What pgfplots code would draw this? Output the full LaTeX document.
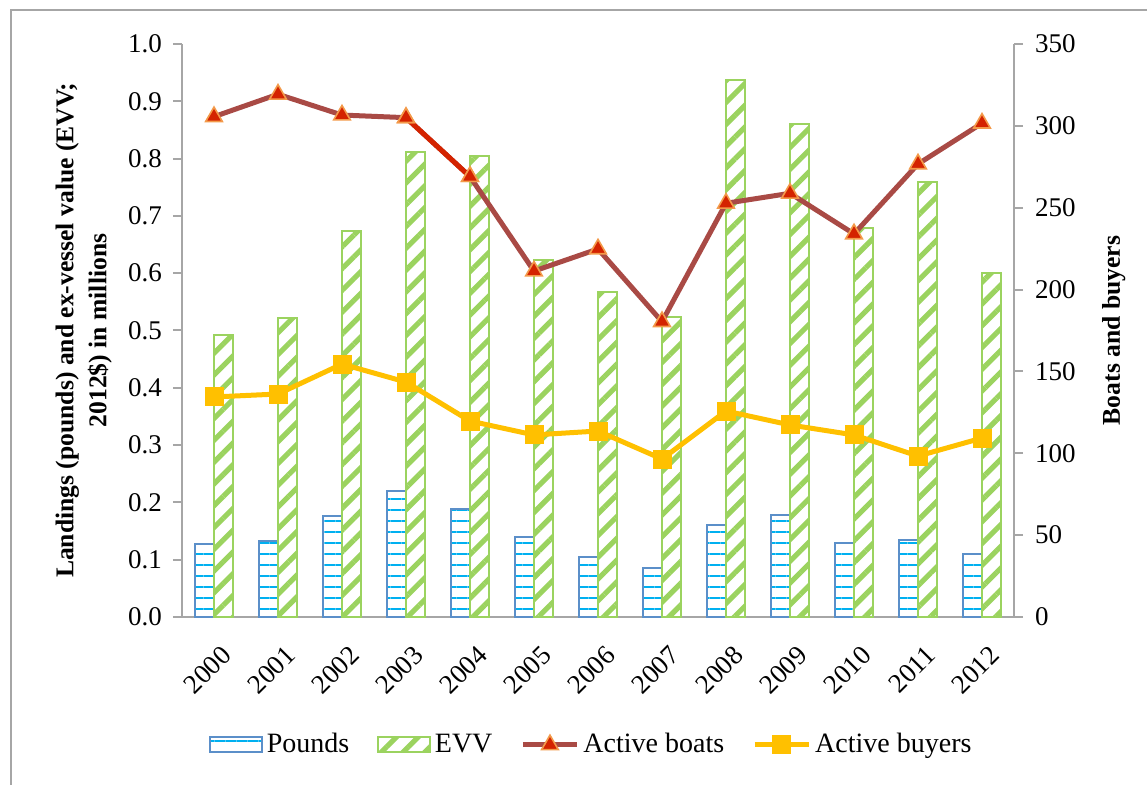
\documentclass[border=0pt]{standalone}
\usepackage{fontspec}
\setmainfont{Liberation Serif}
\usepackage{pgfplots}
\pgfplotsset{compat=1.18}
\usetikzlibrary{patterns.meta}
\definecolor{poundblue}{HTML}{5B8FC9}
\definecolor{poundcyan}{HTML}{00B0F0}
\definecolor{evvgreen}{HTML}{9BD35F}
\definecolor{boatline}{HTML}{A94A45}
\definecolor{boatmark}{HTML}{D42300}
\definecolor{boatedge}{HTML}{F39A4A}
\definecolor{buyer}{HTML}{FFC000}
\definecolor{axgray}{HTML}{A6A6A6}

\pgfplotsset{
  poundsstyle/.style={draw=poundblue, line width=1pt, pattern={Lines[angle=0,distance=5.5pt,line width=1.3pt]}, pattern color=poundcyan},
  evvstyle/.style={draw=evvgreen, line width=0.8pt, pattern={Lines[angle=45,distance=7.7pt,line width=2.6pt]}, pattern color=evvgreen},
  boatstyle/.style={boatline, line width=2.5pt, mark=triangle*, mark size=4.8pt, mark options={fill=boatmark, draw=boatedge, line width=0.8pt, solid}},
  buyerstyle/.style={buyer, line width=2.5pt, mark=square*, mark size=3.5pt, mark options={fill=buyer, draw=buyer, solid}},
  tickfont/.style={font=\fontsize{13.5}{15}\selectfont},
  boxlegend/.style={legend image code/.code={\draw[##1] (0pt,-3.75pt) rectangle (26pt,3.75pt);}},
  linelegend/.style={legend image code/.code={\draw[mark repeat=2,mark phase=2,##1] plot coordinates {(0pt,0pt) (13.5pt,0pt) (27pt,0pt)};}},
}

\begin{document}
\begin{tikzpicture}
\path[use as bounding box] (0pt,0pt) rectangle (573.5pt,392.5pt);
\draw[axgray, line width=1pt] (5.5pt,0pt) -- (5.5pt,387.5pt) -- (573.5pt,387.5pt);

\begin{axis}[
  at={(91pt,84pt)}, anchor=south west,
  width=416pt, height=286.5pt, scale only axis,
  xmin=-0.5, xmax=12.5, ymin=0, ymax=1,
  axis x line*=bottom, axis y line*=left,
  axis line style={axgray, line width=1pt},
  tick align=outside,
  xtick={0,...,12},
  xticklabels={2000,2001,2002,2003,2004,2005,2006,2007,2008,2009,2010,2011,2012},
  minor xtick={-0.5,0.5,...,12.5},
  xtick style={draw=none},
  minor tick length=4.5pt,
  minor tick style={axgray, line width=1pt},
  ytick={0,0.1,...,1.0},
  major tick length=4.5pt,
  ytick style={axgray, line width=1pt},
  yticklabel style={/pgf/number format/fixed, /pgf/number format/precision=1, /pgf/number format/fixed zerofill, xshift=-2pt},
  /pgf/number format/assume math mode=true,
  tick label style={tickfont},
  xticklabel style={rotate=45, anchor=north east, inner sep=2pt, yshift=-6.5pt, xshift=-2pt},
  ylabel={Landings (pounds) and ex-vessel value (EVV;\\2012\$) in millions},
  ylabel style={align=center, font=\bfseries\fontsize{12.8}{16.5}\selectfont, at={(axis description cs:-0.118,0.5)}, anchor=center},
  clip=false,
]
\addplot[ybar, bar width=9.5pt, bar shift=-4.75pt, poundsstyle] coordinates {
(0,0.127) (1,0.133) (2,0.176) (3,0.220) (4,0.189) (5,0.140) (6,0.105)
(7,0.085) (8,0.160) (9,0.178) (10,0.129) (11,0.134) (12,0.110)};
\addplot[ybar, bar width=9.5pt, bar shift=4.75pt, evvstyle] coordinates {
(0,0.492) (1,0.522) (2,0.674) (3,0.812) (4,0.805) (5,0.623) (6,0.567)
(7,0.524) (8,0.937) (9,0.860) (10,0.679) (11,0.759) (12,0.600)};
\end{axis}

\begin{axis}[
  at={(91pt,84pt)}, anchor=south west,
  width=416pt, height=286.5pt, scale only axis,
  xmin=-0.5, xmax=12.5, ymin=0, ymax=350,
  axis x line=none, axis y line*=right,
  axis line style={axgray, line width=1pt},
  tick align=outside,
  ytick={0,50,...,350},
  major tick length=4.5pt,
  ytick style={axgray, line width=1pt},
  yticklabel style={xshift=2.5pt},
  /pgf/number format/assume math mode=true,
  tick label style={tickfont},
  ylabel={Boats and buyers},
  ylabel style={font=\bfseries\fontsize{12.8}{16.5}\selectfont, at={(axis description cs:1.12,0.5)}, anchor=center, rotate=0},
  legend style={at={(axis description cs:0.493,-0.223)}, anchor=center, legend columns=4, draw=none, font=\fontsize{14}{16}\selectfont, inner sep=0pt,
    /tikz/every even column/.append style={column sep=12pt}},
  legend cell align=left,
  clip=false,
]
\addlegendimage{poundsstyle, boxlegend}
\addlegendentry{Pounds}
\addlegendimage{evvstyle, boxlegend}
\addlegendentry{EVV}
\addplot[boatstyle, linelegend] coordinates {
(0,305.6) (1,319.3) (2,306.6) (3,305.0) (4,269.0) (5,211.3) (6,224.8)
(7,180.4) (8,252.7) (9,258.8) (10,234.0) (11,276.7) (12,301.6)};
\addlegendentry{Active boats}
\addplot[boatmark, line width=2.5pt, forget plot] coordinates {(3,305.0) (4,269.0)};
\addplot[only marks, mark=triangle*, mark size=4.8pt, mark options={fill=boatmark, draw=boatedge, line width=0.8pt}, forget plot] coordinates {(3,305.0) (4,269.0)};
\addplot[buyerstyle, linelegend] coordinates {
(0,134.4) (1,136.2) (2,154.5) (3,143.5) (4,119.7) (5,111.2) (6,113.6)
(7,96.5) (8,125.8) (9,117.3) (10,111.2) (11,98.3) (12,109.3)};
\addlegendentry{Active buyers}
\end{axis}
\end{tikzpicture}
\end{document}
